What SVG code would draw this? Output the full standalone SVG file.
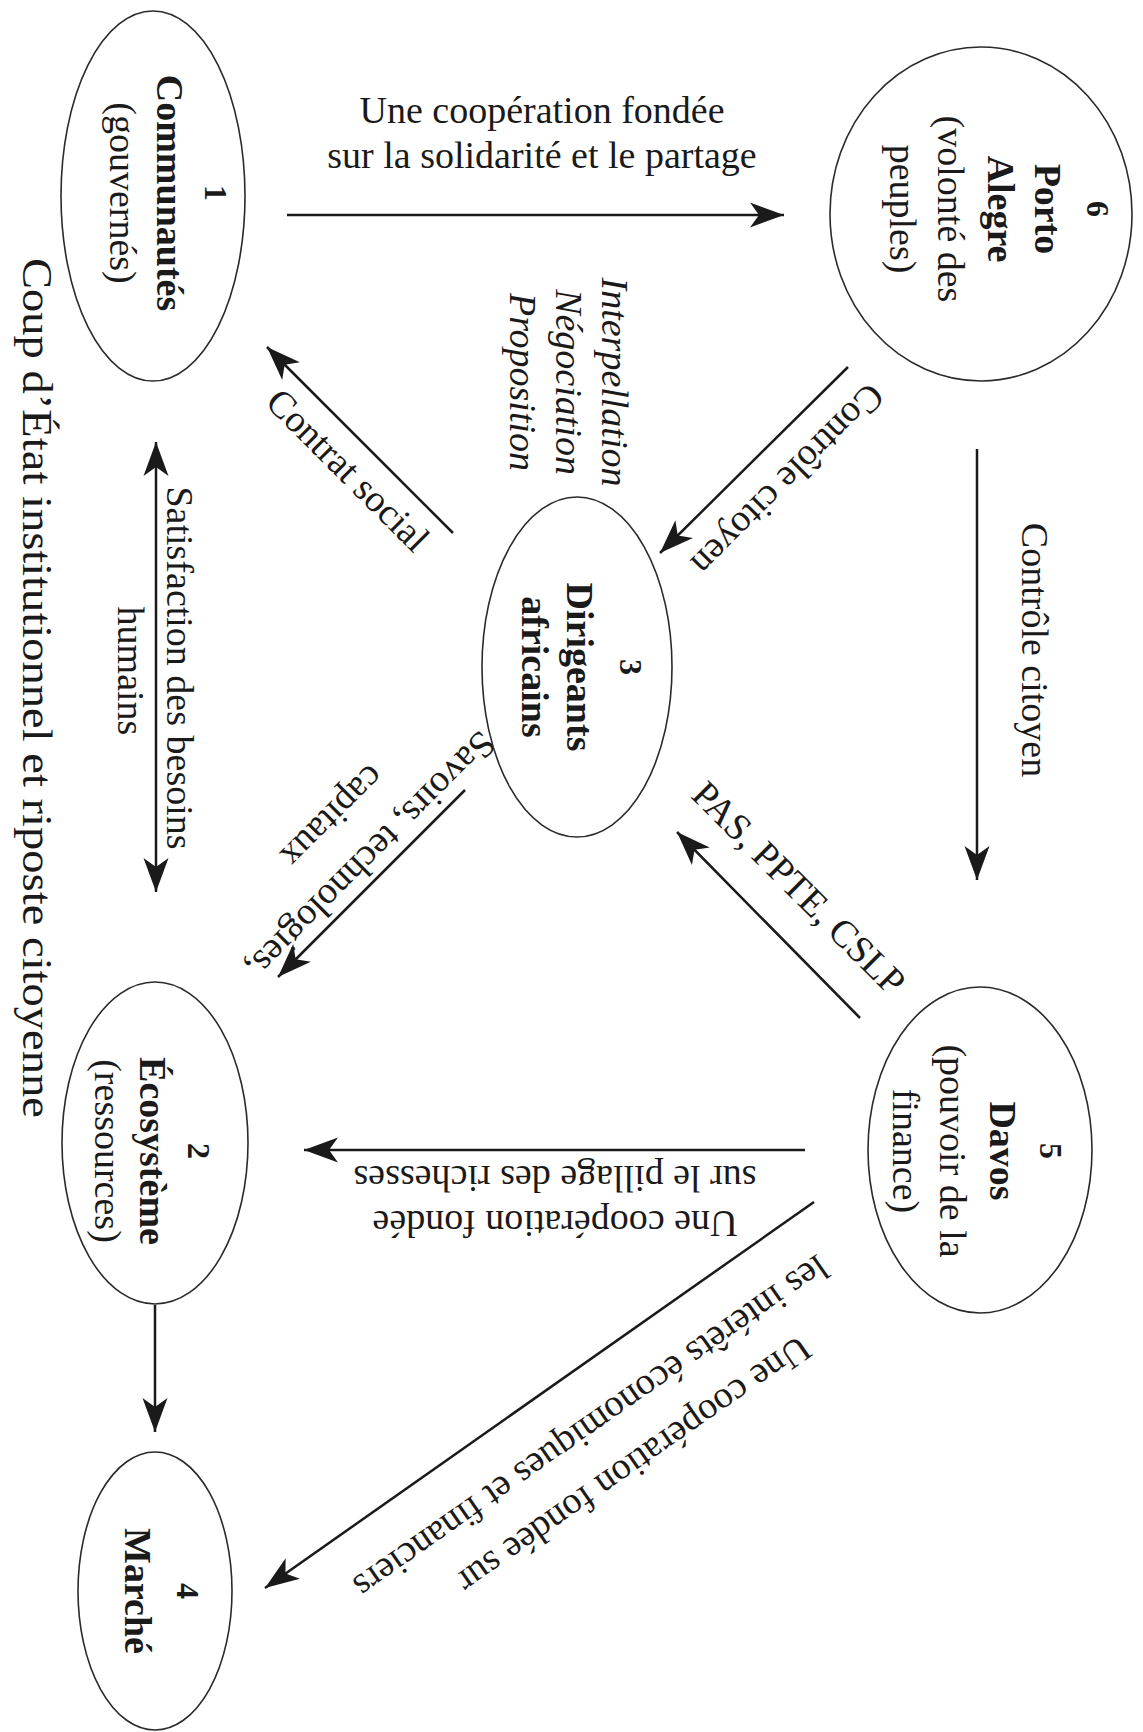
<svg xmlns="http://www.w3.org/2000/svg" width="1143" height="1732" viewBox="0 0 1143 1732">
<style>
  .node ellipse { fill: #ffffff; stroke: #2a2a2a; stroke-width: 1.6; }
  text { font-family: "Liberation Serif", "Times New Roman", serif; fill: #1a1a1a; }
  .nt { font-size: 38px; text-anchor: middle; }
  .b { font-weight: bold; }
  .num { font-size: 32px; font-weight: bold; }
  .lbl { font-size: 38px; text-anchor: middle; }
  .it { font-style: italic; }
  .conn line { stroke: #1a1a1a; stroke-width: 2.5; fill: none; }
</style>
<defs>
  <marker id="ah" viewBox="-36 -14 38 28" refX="0" refY="0" markerWidth="38" markerHeight="28" markerUnits="userSpaceOnUse" orient="auto-start-reverse">
    <path d="M0,0 L-34,-12.5 L-25,0 L-34,12.5 Z" fill="#1a1a1a"/>
  </marker>
</defs>
<rect width="1143" height="1732" fill="#ffffff"/>

<text id="title" font-size="42" text-anchor="middle" textLength="860" lengthAdjust="spacingAndGlyphs" transform="translate(23,688) rotate(90)">Coup d’État institutionnel et riposte citoyenne</text>

<g class="conn" id="connectors">
  <line x1="287" y1="215" x2="784" y2="215" marker-end="url(#ah)"/>
  <line x1="977" y1="449" x2="977" y2="880" marker-end="url(#ah)"/>
  <line x1="848" y1="367" x2="660" y2="553" marker-end="url(#ah)"/>
  <line x1="453" y1="533" x2="267" y2="347" marker-end="url(#ah)"/>
  <line x1="156" y1="442" x2="156" y2="892" marker-start="url(#ah)" marker-end="url(#ah)"/>
  <line x1="465" y1="790" x2="278" y2="977" marker-end="url(#ah)"/>
  <line x1="860" y1="1018" x2="677" y2="832" marker-end="url(#ah)"/>
  <line x1="805" y1="1150" x2="304" y2="1150" marker-end="url(#ah)"/>
  <line x1="814" y1="1202" x2="265" y2="1588" marker-end="url(#ah)"/>
  <line x1="155" y1="1305" x2="155" y2="1432" marker-end="url(#ah)"/>
</g>

<g id="labels">
  <text class="lbl" font-size="39" x="542" y="123">Une coopération fondée</text>
  <text class="lbl" font-size="39" x="542" y="168">sur la solidarité et le partage</text>
  <text class="lbl" font-size="40" transform="translate(1022,650) rotate(90)">Contrôle citoyen</text>
  <text class="lbl" transform="translate(779,471) rotate(135)">Contrôle citoyen</text>
  <text class="lbl" transform="translate(339,479) rotate(45)">Contrat social</text>
  <text class="lbl it" transform="translate(602,382) rotate(90)">Interpellation<tspan x="0" dy="46">Négociation</tspan><tspan x="0" dy="46">Proposition</tspan></text>
  <text class="lbl" transform="translate(167,668) rotate(90)">Satisfaction des besoins</text>
  <text class="lbl" transform="translate(118,671) rotate(90)">humains</text>
  <text class="lbl" transform="translate(362,847) rotate(135)">Savoirs, technologies,</text>
  <text class="lbl" transform="translate(324,808) rotate(135)">capitaux</text>
  <text class="lbl" transform="translate(790,897) rotate(45)">PAS, PPTE, CSLP</text>
  <text class="lbl" font-size="39" transform="translate(555,1211) rotate(180)">Une coopération fondée</text>
  <text class="lbl" font-size="39" transform="translate(555,1166) rotate(180)">sur le pillage des richesses</text>
  <text class="lbl" transform="translate(627,1455) rotate(145)">Une coopération fondée sur</text>
  <text class="lbl" transform="translate(584,1417) rotate(145)">les intérêts économiques et financiers</text>
</g>

<g id="node1" class="node">
  <ellipse cx="153" cy="196" rx="92" ry="185"/>
  <text class="nt" transform="translate(205,193) rotate(90)"><tspan class="num">1</tspan><tspan x="0" dy="48" class="b">Communautés</tspan><tspan x="0" dy="47">(gouvernés)</tspan></text>
</g>
<g id="node6" class="node">
  <ellipse cx="981" cy="214" rx="151" ry="167"/>
  <text class="nt" transform="translate(1087,209) rotate(90)"><tspan class="num">6</tspan><tspan x="0" dy="52" class="b">Porto</tspan><tspan x="0" dy="47" class="b">Alegre</tspan><tspan x="0" dy="50">(volonté des</tspan><tspan x="0" dy="48">peuples)</tspan></text>
</g>
<g id="node3" class="node">
  <ellipse cx="577" cy="667" rx="95" ry="170"/>
  <text class="nt" transform="translate(620,667) rotate(90)"><tspan class="num">3</tspan><tspan x="0" dy="53" class="b">Dirigeants</tspan><tspan x="0" dy="45" class="b">africains</tspan></text>
</g>
<g id="node2" class="node">
  <ellipse cx="155" cy="1143" rx="93" ry="161"/>
  <text class="nt" transform="translate(188,1151) rotate(90)"><tspan class="num">2</tspan><tspan x="0" dy="48" class="b">Écosystème</tspan><tspan x="0" dy="45">(ressources)</tspan></text>
</g>
<g id="node5" class="node">
  <ellipse cx="980" cy="1150" rx="112" ry="163"/>
  <text class="nt" transform="translate(1040,1151) rotate(90)"><tspan class="num">5</tspan><tspan x="0" dy="50" class="b">Davos</tspan><tspan x="0" dy="50">(pouvoir de la</tspan><tspan x="0" dy="47">finance)</tspan></text>
</g>
<g id="node4" class="node">
  <ellipse cx="155" cy="1591" rx="77" ry="139"/>
  <text class="nt" transform="translate(177,1591) rotate(90)"><tspan class="num">4</tspan><tspan x="0" dy="52" class="b">Marché</tspan></text>
</g>
</svg>
